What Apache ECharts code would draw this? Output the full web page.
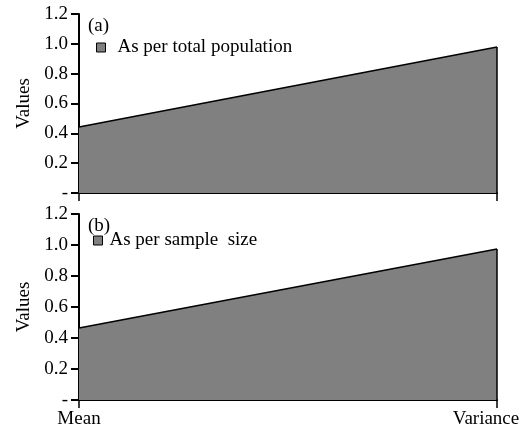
<!DOCTYPE html>
<html>
<head>
<meta charset="utf-8">
<script src="https://cdn.jsdelivr.net/npm/echarts@6/dist/echarts.min.js"></script>
<style>html,body{margin:0;padding:0;background:#fff}#c{width:523px;height:431px}</style>
</head>
<body>
<div id="c"></div>
<script>
var categories = ['Mean', 'Variance'];
var totalPopulation = [0.442, 0.979];
var sampleSize = [0.465, 0.974];
var yTickLabels = ['-', '0.2', '0.4', '0.6', '0.8', '1.0', '1.2'];
var panelLabels = ['(a)', '(b)'];
var seriesNames = ['As per total population', 'As per sample  size'];

var FONT = 'Liberation Serif';
var FS = 19;
var chart = echarts.init(document.getElementById('c'));

function yAxis(idx) {
  return {
    type: 'value', gridIndex: idx, min: 0, max: 1.2, interval: 0.2,
    name: 'Values', nameLocation: 'middle', nameGap: 45, nameRotate: 90,
    nameTextStyle: {fontFamily: FONT, fontSize: FS, color: '#000'},
    axisLine: {show: true, onZero: false, lineStyle: {color: '#000', width: 2}},
    axisTick: {show: true, inside: false, length: 8, lineStyle: {color: '#000', width: 2}},
    axisLabel: {margin: 11, fontFamily: FONT, fontSize: FS, color: '#000',
      formatter: function (v) { return yTickLabels[Math.round(v / 0.2)]; }},
    splitLine: {show: false}
  };
}
function xAxis(idx, showLabels) {
  return {
    type: 'category', gridIndex: idx, data: categories, boundaryGap: false,
    axisLine: {show: true, lineStyle: {color: '#000', width: 2}},
    axisTick: {show: true, length: 8, alignWithLabel: true, lineStyle: {color: '#000', width: 1.5}},
    axisLabel: {show: showLabels, margin: 10, fontFamily: FONT, fontSize: FS, color: '#000',
      formatter: function (v, i) { return i === categories.length - 1 ? '{r|' + v + '}' : v; },
      rich: {r: {fontFamily: FONT, fontSize: FS, color: '#000', padding: [0, 22, 0, 0]}}},
    splitLine: {show: false}
  };
}
function areaSeries(name, data, idx) {
  return {
    name: name, type: 'line', xAxisIndex: idx, yAxisIndex: idx, data: data,
    symbol: 'none', lineStyle: {color: '#000', width: 1.5},
    itemStyle: {color: '#808080', borderColor: '#000', borderWidth: 1},
    areaStyle: {color: '#808080', opacity: 1},
    markLine: {symbol: 'none', silent: true, label: {show: false},
      lineStyle: {color: '#000', width: 1.5, type: 'solid'},
      data: [[{coord: [categories[categories.length - 1], 0]},
              {coord: [categories[categories.length - 1], data[data.length - 1]]}]]}
  };
}

chart.setOption({
  animation: false,
  backgroundColor: '#fff',
  title: [
    {text: panelLabels[0], left: 83, top: 12, textStyle: {fontFamily: FONT, fontSize: FS, fontWeight: 'normal', color: '#000'}},
    {text: panelLabels[1], left: 83, top: 212, textStyle: {fontFamily: FONT, fontSize: FS, fontWeight: 'normal', color: '#000'}}
  ],
  legend: [
    {data: [seriesNames[0]], left: 96, top: 38, padding: 0, icon: 'rect', itemWidth: 9, itemHeight: 9,
      itemStyle: {borderColor: '#000', borderWidth: 1},
      textStyle: {fontFamily: FONT, fontSize: FS, color: '#000', padding: [0, 0, 0, 7]}},
    {data: [seriesNames[1]], left: 93, top: 231, padding: 0, icon: 'rect', itemWidth: 9, itemHeight: 9,
      itemStyle: {borderColor: '#000', borderWidth: 1},
      textStyle: {fontFamily: FONT, fontSize: FS, color: '#000', padding: [0, 0, 0, 2]}}
  ],
  grid: [
    {left: 79, top: 14, width: 418, height: 179},
    {left: 79, top: 214, width: 418, height: 186}
  ],
  xAxis: [xAxis(0, false), xAxis(1, true)],
  yAxis: [yAxis(0), yAxis(1)],
  series: [areaSeries(seriesNames[0], totalPopulation, 0), areaSeries(seriesNames[1], sampleSize, 1)]
});
</script>
</body>
</html>
